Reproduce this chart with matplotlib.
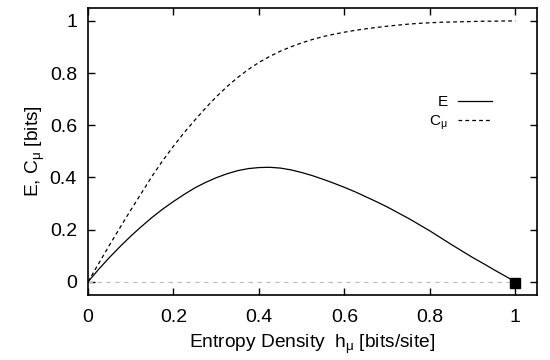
import numpy as np
import matplotlib
matplotlib.use('Agg')
import matplotlib.pyplot as plt

# Values
h_mu = [0.0, 0.025, 0.05, 0.075, 0.1, 0.125, 0.15, 0.175, 0.2, 0.225, 0.25, 0.275,
        0.3, 0.325, 0.35, 0.375, 0.4, 0.425, 0.45, 0.475, 0.5, 0.525, 0.55, 0.575,
        0.6, 0.625, 0.65, 0.675, 0.7, 0.725, 0.75, 0.775, 0.8, 0.825, 0.85, 0.875,
        0.9, 0.925, 0.95, 0.975, 1.0]
E = [0.0, 0.048, 0.093, 0.135, 0.175, 0.212, 0.247, 0.279, 0.308, 0.335, 0.36, 0.381,
     0.399, 0.414, 0.426, 0.434, 0.438, 0.439, 0.436, 0.429, 0.419, 0.407, 0.393, 0.378,
     0.362, 0.345, 0.326, 0.307, 0.287, 0.265, 0.243, 0.219, 0.195, 0.169, 0.143, 0.118,
     0.093, 0.07, 0.046, 0.023, 0.0]
C_mu = [0.0, 0.07, 0.14, 0.208, 0.275, 0.34, 0.405, 0.465, 0.52, 0.572, 0.62, 0.666,
        0.709, 0.748, 0.783, 0.814, 0.841, 0.864, 0.884, 0.901, 0.916, 0.929, 0.94, 0.949,
        0.957, 0.964, 0.97, 0.975, 0.98, 0.984, 0.988, 0.991, 0.993, 0.995, 0.996, 0.997,
        0.998, 0.999, 0.999, 1.0, 1.0]

x_ticks = [0, 0.2, 0.4, 0.6, 0.8, 1]
y_ticks = [0, 0.2, 0.4, 0.6, 0.8, 1]
tick_labels = ['0', '0.2', '0.4', '0.6', '0.8', '1']

plt.rcParams['font.family'] = ['Liberation Sans', 'DejaVu Sans']
plt.rcParams['mathtext.fontset'] = 'custom'
plt.rcParams['mathtext.rm'] = 'Liberation Sans'
plt.rcParams['mathtext.it'] = 'Liberation Sans'

fig = plt.figure(figsize=(5.5, 3.6), dpi=100)
ax = fig.add_axes([0.16, 0.181, 0.816, 0.797])

# zero line and end point
ax.plot([0, 1], [0, 0], color='#bbbbbb', lw=0.8, dashes=(4, 4))
ax.plot([1.0], [-0.005], 's', color='black', ms=6.5)

ax.plot(h_mu, E, color='black', lw=0.9, label='E')
ax.plot(h_mu, C_mu, color='black', lw=0.9, dashes=(3, 2.5), label=r'C$_\mathregular{\mu}$')

ax.set_xlim(0, 1.05)
ax.set_ylim(-0.05, 1.05)
ax.set_xticks(x_ticks)
ax.set_xticklabels(tick_labels)
ax.set_yticks(y_ticks)
ax.set_yticklabels(tick_labels)
ax.tick_params(direction='in', top=True, right=True, length=5, width=1, labelsize=14)
ax.tick_params(axis='x', pad=10)
ax.tick_params(axis='y', pad=8)
for s in ax.spines.values():
    s.set_linewidth(1.2)

ax.set_xlabel(r'Entropy Density  h$_\mathregular{\mu}$ [bits/site]', fontsize=13.8, labelpad=5)
ax.set_ylabel(r'E, C$_\mathregular{\mu}$ [bits]', fontsize=13.8, labelpad=2)

ax.legend(loc='upper right', bbox_to_anchor=(0.9, 0.695), frameon=False, markerfirst=False,
          fontsize=11, handlelength=2.2, handletextpad=0.7, labelspacing=0.25,
          borderpad=0, borderaxespad=0)

fig.savefig('out.png', dpi=100)
